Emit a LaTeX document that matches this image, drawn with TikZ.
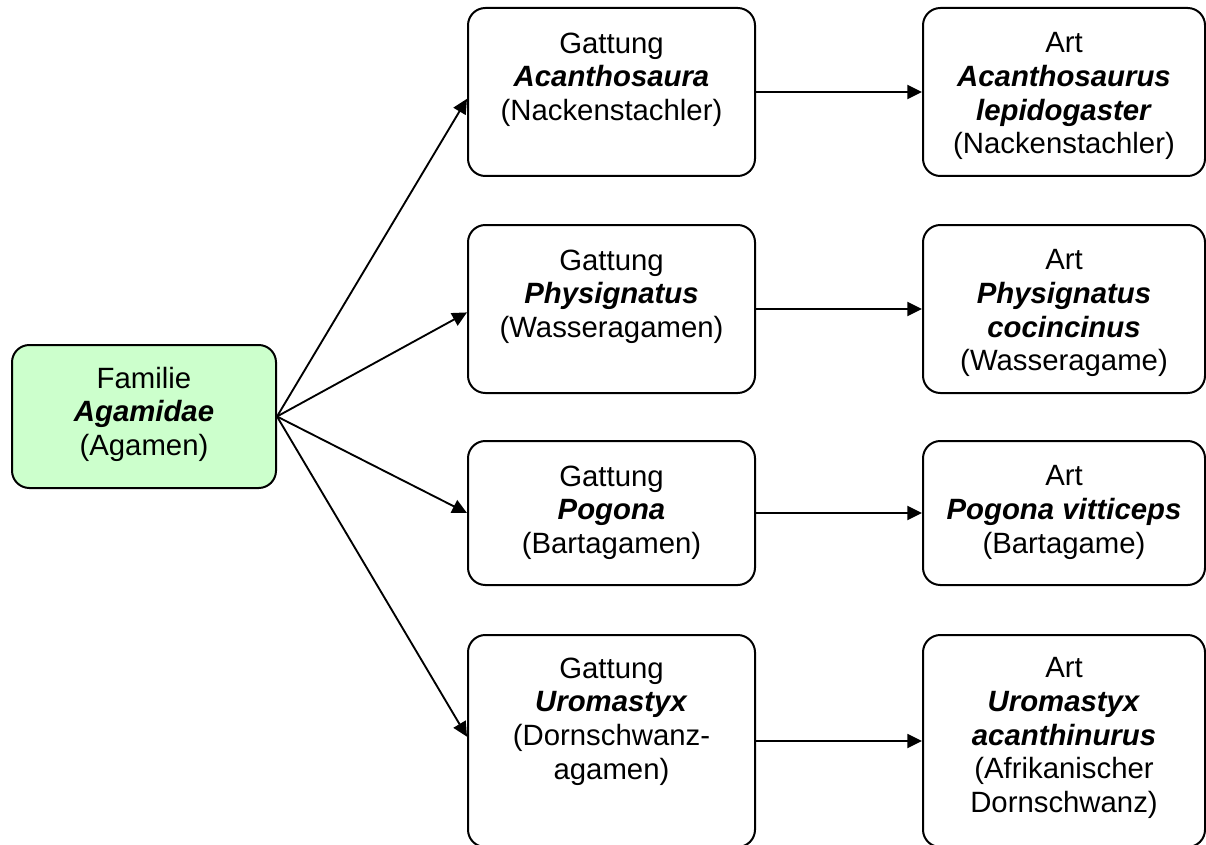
\documentclass[tikz,border=0pt]{standalone}
\usepackage{fontspec}
\setmainfont{Liberation Sans}
\usetikzlibrary{arrows.meta,calc}
\newcommand{\sci}[1]{\textbf{\textit{#1}}}
\begin{document}
\begin{tikzpicture}[x=0.75pt,y=-0.75pt,
  taxbox/.style 2 args={draw=black, line width=1.5pt, rounded corners=13pt,
    minimum width=#1*0.75pt, minimum height=#2*0.75pt, inner sep=0pt,
    anchor=north west},
  famfill/.style={fill=famgreen},
  taxtext/.style={align=center, anchor=north, inner sep=0pt,
    font=\fontsize{22}{25.2}\selectfont},
  link/.style={line width=1.4pt, -{Triangle[length=11pt,width=10.5pt]}}]
\definecolor{famgreen}{HTML}{CCFFCC}
\clip (0,0) rectangle (1206,845);
\fill[white] (0,0) rectangle (1206,845);

% family
\node[taxbox={264}{143}, famfill] (fam) at (11,344) {};
\node[taxtext] (famt) at ($(fam.north)+(0,22.5)$) {Familie\\\sci{Agamidae}\\(Agamen)};

% genera
\node[taxbox={287}{168}] (g1) at (467,7) {};
\node[taxbox={287}{168}] (g2) at (467,224) {};
\node[taxbox={287}{144}] (g3) at (467,440) {};
\node[taxbox={287}{212}] (g4) at (467,634) {};
\node[taxtext] at ($(g1.north)+(0,25.5)$) {Gattung\\\sci{Acanthosaura}\\(Nackenstachler)};
\node[taxtext] at ($(g2.north)+(0,25.5)$) {Gattung\\\sci{Physignatus}\\(Wasseragamen)};
\node[taxtext] at ($(g3.north)+(0,25.5)$) {Gattung\\\sci{Pogona}\\(Bartagamen)};
\node[taxtext] at ($(g4.north)+(0,23.5)$) {Gattung\\\sci{Uromastyx}\\(Dornschwanz-\\agamen)};

% species
\node[taxbox={282}{168}] (a1) at (922,7) {};
\node[taxbox={282}{168}] (a2) at (922,224) {};
\node[taxbox={282}{144}] (a3) at (922,440) {};
\node[taxbox={282}{212}] (a4) at (922,634) {};
\node[taxtext] at ($(a1.north)+(0,25.5)$) {Art\\\sci{Acanthosaurus}\\\sci{lepidogaster}\\(Nackenstachler)};
\node[taxtext] at ($(a2.north)+(0,25.5)$) {Art\\\sci{Physignatus}\\\sci{cocincinus}\\(Wasseragame)};
\node[taxtext] at ($(a3.north)+(0,25.5)$) {Art\\\sci{Pogona vitticeps}\\(Bartagame)};
\node[taxtext] at ($(a4.north)+(0,23.5)$) {Art\\\sci{Uromastyx}\\\sci{acanthinurus}\\(Afrikanischer\\Dornschwanz)};

% connectors family -> genera
\coordinate (src) at (fam.east);
\draw[link] (src) -- ($(g1.north west)!0.54!(g1.south west)$);
\draw[link] (src) -- ($(g2.north west)!0.52!(g2.south west)$);
\draw[link] (src) -- (g3.west);
\draw[link] (src) -- ($(g4.north west)!0.48!(g4.south west)$);

% connectors genus -> species
\draw[link] (g1.east) -- (a1.west);
\draw[link] (g2.east) -- (a2.west);
\draw[link] (g3.east) -- (a3.west);
\draw[link] (g4.east) -- (a4.west);
\end{tikzpicture}
\end{document}
